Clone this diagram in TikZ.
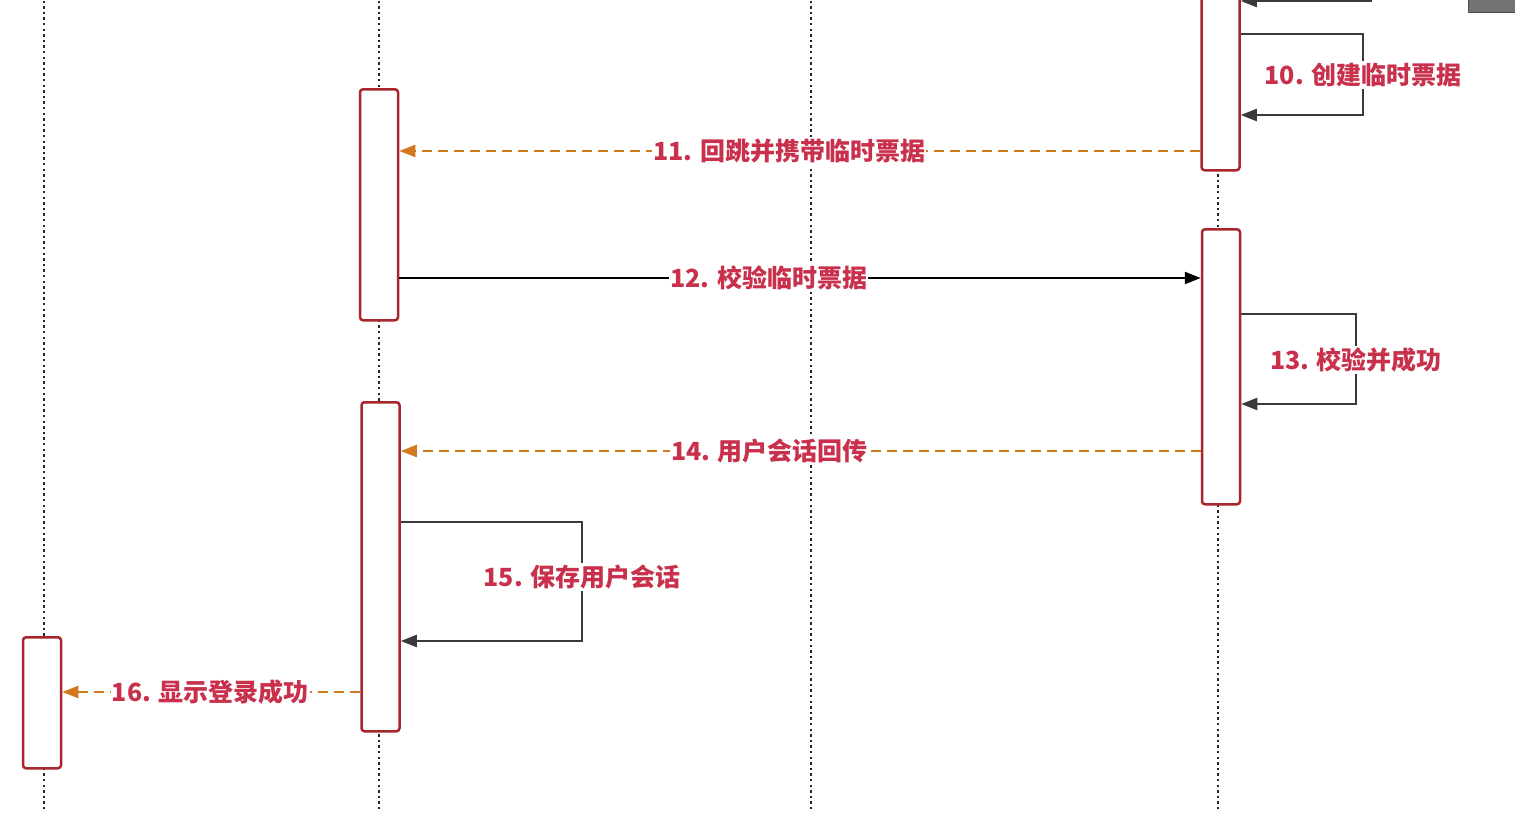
\documentclass[tikz,border=0pt]{standalone}
\usepackage{fontspec}
\newfontfamily\cjk{Noto Sans CJK SC}
\usetikzlibrary{arrows.meta}
\definecolor{boxred}{HTML}{A8262E}
\definecolor{lbl}{HTML}{C8304C}
\definecolor{orng}{HTML}{D2781E}
\definecolor{loopgray}{HTML}{3A3A3A}
\tikzset{
  act/.style={draw=boxred, line width=2.5pt, fill=white, rounded corners=3pt,
    minimum width=38pt, inner sep=0pt, anchor=north},
  life/.style={line width=2.4pt, dash pattern=on 2.4pt off 3.2pt, black!85},
  lab/.style={fill=white, text=lbl, inner xsep=1pt, inner ysep=2pt,
    font=\cjk\bfseries\fontsize{25}{25}\selectfont},
  call/.style={line width=2.2pt, black, -{Triangle[length=16pt,width=12pt]}},
  reply/.style={line width=2.2pt, orng, dash pattern=on 10pt off 6pt,
    -{Triangle[length=16pt,width=12pt]}},
  selfloop/.style={line width=2.2pt, loopgray, -{Triangle[length=16pt,width=12pt]}},
}
\begin{document}
\begin{tikzpicture}[x=1pt, y=-1pt]
\useasboundingbox (0,0) rectangle (1515,812);
% lifelines
\draw[life] (44,-5) -- (44,820);
\draw[life] (379,-5) -- (379,820);
\draw[life] (811,-5) -- (811,820);
\draw[life] (1218,-5) -- (1218,820);
% activation boxes
\node[act, minimum height=189pt] (bA) at (1220.5,-20) {};
\node[act, minimum height=231pt] (bB) at (379,88) {};
\node[act, minimum height=275pt] (bC) at (1221,228) {};
\node[act, minimum height=329pt] (bD) at (380.5,401) {};
\node[act, minimum height=131pt] (bE) at (42,636) {};
% top incoming arrow (partly visible)
\coordinate (topsrc) at (1372,1);
\draw[call, loopgray] (topsrc) -- (bA.east |- topsrc);
% 10 self loop
\draw[selfloop] (bA.east |- {(0,34)}) -| (1363,75) node[lab] {10. 创建临时票据}
  |- (bA.east |- {(0,115)});
% 11
\draw[reply] (bA.west |- {(0,151)}) -- node[lab, pos=0.513] {11. 回跳并携带临时票据} (bB.east |- {(0,151)});
% 12
\draw[call] (bB.east |- {(0,278)}) -- node[lab, pos=0.461] {12. 校验临时票据} (bC.west |- {(0,278)});
% 13 self loop
\draw[selfloop] (bC.east |- {(0,314)}) -| (1356,360) node[lab] {13. 校验并成功}
  |- (bC.east |- {(0,404)});
% 14
\draw[reply] (bC.west |- {(0,451)}) -- node[lab, pos=0.539] {14. 用户会话回传} (bD.east |- {(0,451)});
% 15 self loop
\draw[selfloop] (bD.east |- {(0,522)}) -| (582,577) node[lab] {15. 保存用户会话}
  |- (bD.east |- {(0,641)});
% 16
\draw[reply] (bD.west |- {(0,692)}) -- node[lab, pos=0.503] {16. 显示登录成功} (bE.east |- {(0,692)});
% top-right gray tab
\node[draw=black!70, fill=black!55, minimum width=48pt, minimum height=14pt, inner sep=0pt, anchor=north west] (tab) at (1468,-2) {};
\end{tikzpicture}
\end{document}
